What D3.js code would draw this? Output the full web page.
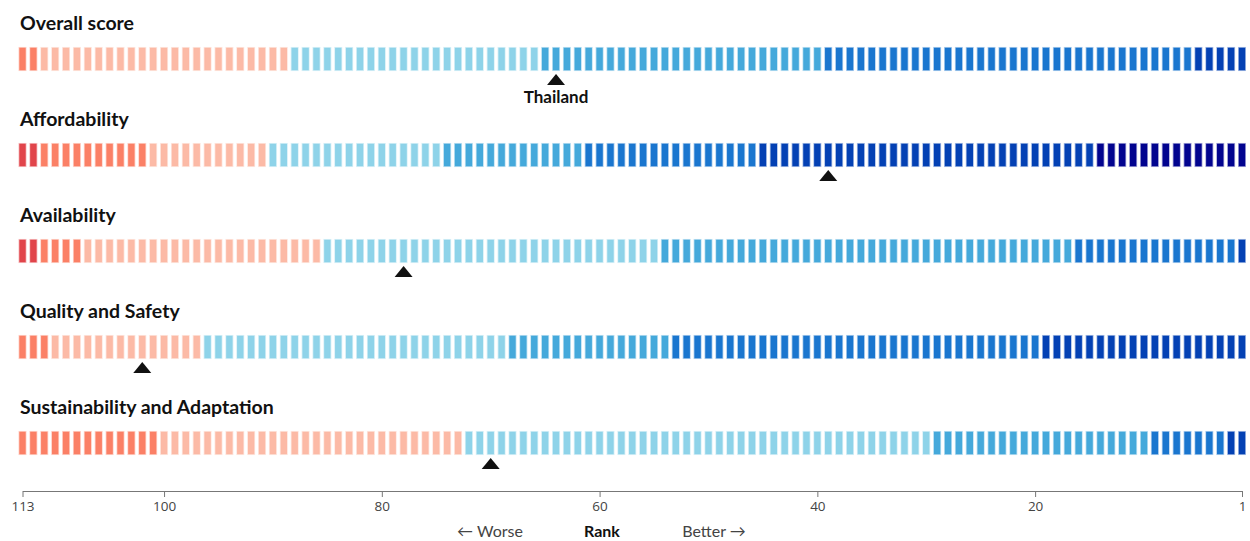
<!DOCTYPE html>
<html>
<head>
<meta charset="utf-8">
<script src="https://cdn.jsdelivr.net/npm/d3@7"></script>
<style>
  body { margin: 0; background: #fff; }
  svg { display: block; }
  .title { font-family: Lato, "Open Sans", sans-serif; font-weight: 700; font-size: 19.5px; fill: #111; }
  .axis text { font-family: "Open Sans", "Noto Sans", sans-serif; font-size: 13.5px; fill: #444; }
  .axis path, .axis line { stroke: #777; }
  .foot { font-family: Lato, "Open Sans", sans-serif; font-size: 16px; fill: #444; }
</style>
</head>
<body>
<svg id="chart" width="1250" height="541"></svg>
<script>
// ranks run from 113 (worst) to 1 (best)
var ranks = d3.range(113, 0, -1);
var pillars = ["Overall score", "Affordability", "Availability", "Quality and Safety", "Sustainability and Adaptation"];
var thailandRank = [64, 39, 78, 102, 70];
var tickLabels = [113, 100, 80, 60, 40, 20, 1];

// colour tiers, worst to best
var tierColors = ["#e1454b", "#fb8066", "#fcbaa6", "#8ed3e9", "#45a9db", "#1a76cf", "#0441b4", "#02048f"];

// [first (worst) rank of the segment, tier index]
var overallTiers = [[113, 1], [111, 2], [88, 3], [65, 4], [39, 5], [5, 6]];
var affordTiers = [[113, 0], [111, 1], [101, 2], [90, 3], [74, 4], [61, 5], [45, 6], [14, 7]];
var availTiers = [[113, 0], [111, 1], [107, 2], [85, 3], [54, 4], [16, 5], [1, 6]];
var qualityTiers = [[113, 1], [110, 2], [96, 3], [68, 4], [53, 5], [19, 6]];
var sustainTiers = [[113, 1], [100, 2], [72, 3], [29, 4], [9, 5], [2, 6]];
var allTiers = [overallTiers, affordTiers, availTiers, qualityTiers, sustainTiers];

var svg = d3.select("#chart");
var x = d3.scaleLinear().domain([113, 1]).range([22.5, 1242]);
var rowY = d3.scaleLinear().domain([0, 4]).range([47, 431]);
var BAR_W = 6.4, BAR_H = 24;

function tierOf(tiers, r) {
  var t = tiers[0][1];
  tiers.forEach(function(s) { if (r <= s[0]) t = s[1]; });
  return t;
}

pillars.forEach(function(name, i) {
  var g = svg.append("g").attr("transform", "translate(0," + rowY(i) + ")");

  g.append("text").attr("class", "title")
    .attr("x", 20).attr("y", -17)
    .text(name);

  g.selectAll("rect")
    .data(ranks)
    .enter().append("rect")
    .attr("x", function(d) { return x(d) - BAR_W / 2; })
    .attr("y", 0.75)
    .attr("width", BAR_W)
    .attr("height", BAR_H - 1.5)
    .attr("fill", function(d) { return tierColors[tierOf(allTiers[i], d)]; })
    .attr("stroke", function(d) { return tierColors[tierOf(allTiers[i], d)]; })
    .attr("stroke-opacity", 0.35)
    .attr("stroke-width", 1.6);

  var tx = x(thailandRank[i]);
  g.append("path")
    .attr("d", "M" + tx + "," + (BAR_H + 3) + "L" + (tx + 9) + "," + (BAR_H + 14) + "L" + (tx - 9) + "," + (BAR_H + 14) + "Z")
    .attr("fill", "#111");

  if (i === 0) {
    g.append("text").attr("class", "title")
      .attr("x", tx).attr("y", BAR_H + 32)
      .attr("text-anchor", "middle")
      .style("font-size", "17px")
      .text("Thailand");
  }
});

var axis = d3.axisBottom(x).tickValues(tickLabels).tickSize(6).tickSizeOuter(0);
svg.append("g")
  .attr("class", "axis")
  .attr("transform", "translate(0,491)")
  .call(axis)
  .call(function(g) { g.selectAll(".tick text").attr("dy", "0.85em").attr("y", 9); });

svg.append("text").attr("class", "foot").attr("x", 490).attr("y", 537).attr("text-anchor", "middle").text("\u2190 Worse");
svg.append("text").attr("class", "foot").attr("x", 602).attr("y", 537).attr("text-anchor", "middle").style("font-weight", 700).style("fill", "#111").text("Rank");
svg.append("text").attr("class", "foot").attr("x", 714).attr("y", 537).attr("text-anchor", "middle").text("Better \u2192");
</script>
</body>
</html>
